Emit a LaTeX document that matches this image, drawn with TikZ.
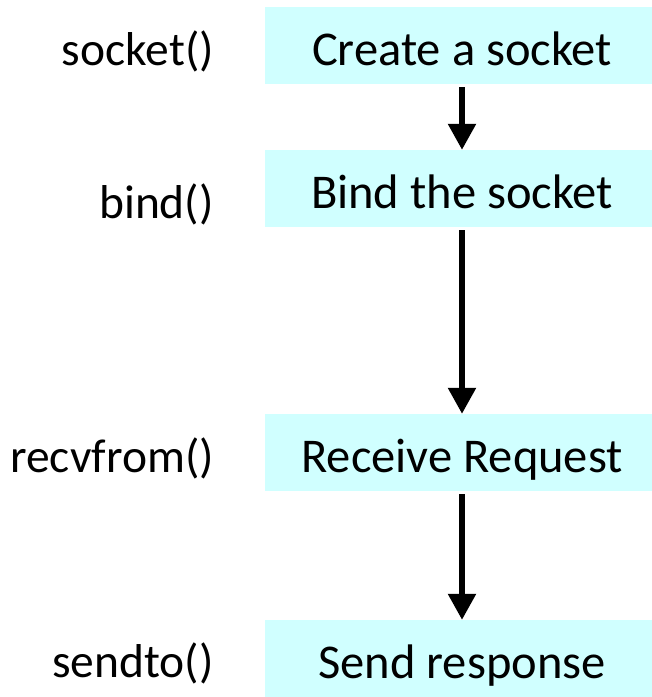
\documentclass[tikz,border=0pt]{standalone}
\usepackage{fontspec}
\setmainfont{Carlito}
\usetikzlibrary{arrows.meta}
\definecolor{boxfill}{RGB}{208,255,255}
\begin{document}
\begin{tikzpicture}[x=1pt,y=-1pt,
  stepbox/.style={fill=boxfill, draw=none, minimum width=394pt, inner xsep=0pt, inner ysep=0pt,
    text height=58pt, text depth=19pt, anchor=base, font=\fontsize{48.5}{58}\selectfont},
  fn/.style={anchor=base east, inner sep=0pt, font=\fontsize{47.5}{56}\selectfont},
  flow/.style={line width=5.5pt, -{Triangle[width=27pt,length=26pt]}, shorten <=3pt}]
\useasboundingbox (0,0) rectangle (652,697);
\node[stepbox] (b1) at (462,65) {Create a socket};
\node[stepbox] (b2) at (462,208) {Bind the socket};
\node[stepbox] (b3) at (462,472) {Receive Request};
\node[stepbox] (b4) at (462,678) {Send response};
\node[fn] (l1) at (214,65) {socket()};
\node[fn] (l2) at (214,218) {bind()};
\node[fn] (l3) at (214,472) {recvfrom()};
\node[fn] (l4) at (214,677) {sendto()};
\draw[flow] (b1.south) -- (b2.north);
\draw[flow] (b2.south) -- (b3.north);
\draw[flow] (b3.south) -- (b4.north);
\end{tikzpicture}
\end{document}
